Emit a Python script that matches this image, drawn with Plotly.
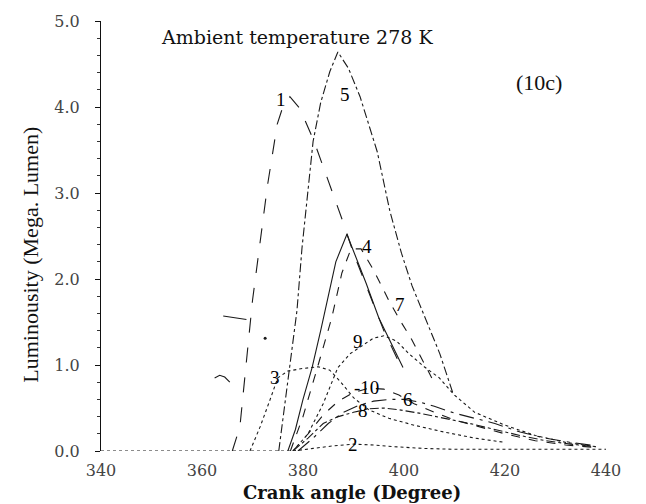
import plotly.graph_objects as go

# ---- data ----
ang_1 = [366, 367.5, 370, 371.5, 373, 374.9, 376, 377.4, 379.4, 382.2, 385, 387.7, 390, 393, 396, 399.5]
lum_1 = [0, 0.28, 1.75, 2.44, 3.1, 3.8, 4.0, 4.12, 3.98, 3.6, 3.15, 2.7, 2.3, 1.85, 1.4, 0.97]

ang_2 = [340, 350, 360, 370, 378, 382, 386, 390, 394, 398, 404, 410, 418, 426, 434, 440]
lum_2 = [0, 0, 0, 0, 0, 0.03, 0.06, 0.08, 0.07, 0.05, 0.03, 0.02, 0.02, 0.02, 0.02, 0.02]

ang_3 = [369.5, 371.5, 373.5, 375, 377, 380, 383, 385.3, 387.5, 390, 393, 397, 402, 408, 414, 420]
lum_3 = [0, 0.28, 0.6, 0.85, 0.93, 0.96, 0.98, 0.94, 0.8, 0.62, 0.48, 0.38, 0.3, 0.22, 0.15, 0.1]

ang_4 = [377, 378.5, 380, 381.8, 383.5, 385, 386.5, 388.7, 390.5, 392.5, 395, 397.5, 399.8]
lum_4 = [0, 0.25, 0.6, 0.97, 1.4, 1.8, 2.2, 2.52, 2.25, 1.95, 1.55, 1.25, 0.97]

ang_5 = [375.2, 377, 378.8, 379.8, 381, 382, 383.5, 385.3, 386.9, 389, 391.3, 393, 394.7, 397.2,
         399.5, 401.6, 403.8, 405.5, 407.1, 409.7]
lum_5 = [0, 0.8, 1.63, 2.36, 3.0, 3.6, 4.05, 4.41, 4.64, 4.45, 4.12, 3.8, 3.48, 2.79,
         2.3, 1.92, 1.6, 1.35, 1.13, 0.67]

ang_6 = [379, 382, 385, 388, 391, 394, 397, 400, 403, 406, 410, 414, 418, 423, 428, 433, 438]
lum_6 = [0, 0.15, 0.32, 0.45, 0.53, 0.58, 0.6, 0.6, 0.57, 0.52, 0.44, 0.38, 0.32, 0.22, 0.15, 0.1, 0.06]

ang_7 = [377.5, 380, 383, 385.7, 387.7, 389.5, 391.5, 394, 397, 399.2, 401.5, 403.8, 405.5]
lum_7 = [0, 0.4, 1.0, 1.55, 2.07, 2.35, 2.35, 2.1, 1.75, 1.52, 1.3, 1.05, 0.85]

ang_8 = [378, 381, 384, 387, 390, 393, 396, 399, 403, 408, 413, 418, 423, 428, 433, 438]
lum_8 = [0, 0.15, 0.32, 0.4, 0.45, 0.49, 0.5, 0.48, 0.44, 0.38, 0.32, 0.25, 0.18, 0.12, 0.08, 0.05]

ang_9 = [378, 381, 384, 386.9, 389.3, 391.5, 393.9, 396, 398.5, 401, 404, 407, 410, 414, 420, 426, 432, 438]
lum_9 = [0, 0.2, 0.55, 0.97, 1.13, 1.22, 1.31, 1.34, 1.28, 1.13, 0.98, 0.85, 0.65, 0.45, 0.3, 0.18, 0.1, 0.05]

ang_10 = [378, 381, 384, 387, 390, 393, 396, 399, 402, 406, 410, 415, 420, 426, 432, 438]
lum_10 = [0, 0.2, 0.42, 0.58, 0.68, 0.73, 0.72, 0.65, 0.55, 0.45, 0.36, 0.28, 0.2, 0.12, 0.07, 0.04]

# small stray marks visible in the scanned figure
stray_ang_a = [362.5, 363.5, 364.5, 365.5]
stray_lum_a = [0.85, 0.88, 0.86, 0.8]
stray_ang_b = [364.2, 368.8]
stray_lum_b = [1.57, 1.53]
stray_ang_c = [372.5]
stray_lum_c = [1.31]

series = [
    ("1", ang_1, lum_1, "longdash"),
    ("2", ang_2, lum_2, "dot"),
    ("3", ang_3, lum_3, "dot"),
    ("4", ang_4, lum_4, "solid"),
    ("5", ang_5, lum_5, "dashdot"),
    ("6", ang_6, lum_6, "longdashdot"),
    ("7", ang_7, lum_7, "dash"),
    ("8", ang_8, lum_8, "dashdot"),
    ("9", ang_9, lum_9, "dot"),
    ("10", ang_10, lum_10, "dash"),
]

# curve label positions (angle, luminosity) and texts
label_text = ["1", "5", "4", "7", "9", "3", "-10", "8", "6", "2"]
label_ang = [375.6, 388.3, 392.7, 399.2, 390.9, 374.5, 392.6, 391.9, 400.8, 389.9]
label_lum = [4.09, 4.14, 2.38, 1.70, 1.27, 0.86, 0.74, 0.47, 0.60, 0.07]

x_ticks = [340, 360, 380, 400, 420, 440]
y_ticks = [0, 1, 2, 3, 4, 5]

fig = go.Figure()
for name, xs, ys, dash in series:
    fig.add_trace(go.Scatter(x=xs, y=ys, mode="lines", name=name,
                             line=dict(color="#1a1a1a", width=1.1, dash=dash),
                             showlegend=False))
for xs, ys in [(stray_ang_a, stray_lum_a), (stray_ang_b, stray_lum_b)]:
    fig.add_trace(go.Scatter(x=xs, y=ys, mode="lines", showlegend=False,
                             line=dict(color="#1a1a1a", width=1.1)))
fig.add_trace(go.Scatter(x=stray_ang_c, y=stray_lum_c, mode="markers", showlegend=False,
                         marker=dict(color="#1a1a1a", size=3)))

serif = "Liberation Serif"
wide = "DejaVu Serif"

annotations = []
for t, xa, ya in zip(label_text, label_ang, label_lum):
    annotations.append(dict(x=xa, y=ya, text=t, showarrow=False, xref="x", yref="y",
                            xanchor="center", yanchor="middle",
                            font=dict(family=serif, size=19, color="#000")))

annotations += [
    dict(x=378.8, y=4.81, text="Ambient temperature 278 K", showarrow=False, xref="x", yref="y",
         xanchor="center", yanchor="middle",
         font=dict(family=wide, size=19, color="#111")),
    dict(x=426.7, y=4.28, text="(10c)", showarrow=False, xref="x", yref="y",
         xanchor="center", yanchor="middle",
         font=dict(family=serif, size=22, color="#111")),
    dict(x=0.497, y=-0.097, text="<b>Crank angle (Degree)</b>", showarrow=False,
         xref="paper", yref="paper", xanchor="center", yanchor="middle",
         font=dict(family=wide, size=18, color="#111")),
    dict(x=-0.139, y=0.456, text="Luminousity (Mega. Lumen)", showarrow=False,
         xref="paper", yref="paper", xanchor="center", yanchor="middle",
         textangle=-90, font=dict(family=serif, size=22, color="#111")),
]

fig.update_layout(
    width=646, height=504,
    margin=dict(l=101, r=40, t=19, b=53),
    paper_bgcolor="white", plot_bgcolor="white",
    annotations=annotations,
    xaxis=dict(range=[340, 440], tickvals=x_ticks, ticktext=[str(v) for v in x_ticks],
               showgrid=False, zeroline=False, showline=False, ticks="",
               ticklabelstandoff=8,
               tickfont=dict(family=wide, size=16, color="#444")),
    yaxis=dict(range=[0, 5], tickvals=y_ticks, ticktext=[f"{v:.1f}" for v in y_ticks],
               showgrid=False, zeroline=False, showline=True, linecolor="#111", linewidth=1,
               ticks="outside", ticklen=5, tickcolor="#111",
               minor=dict(dtick=0.2, ticks="outside", ticklen=3, tickcolor="#333", showgrid=False),
               ticklabelstandoff=12,
               tickfont=dict(family=wide, size=16, color="#444")),
)

fig.write_html("out.html")
